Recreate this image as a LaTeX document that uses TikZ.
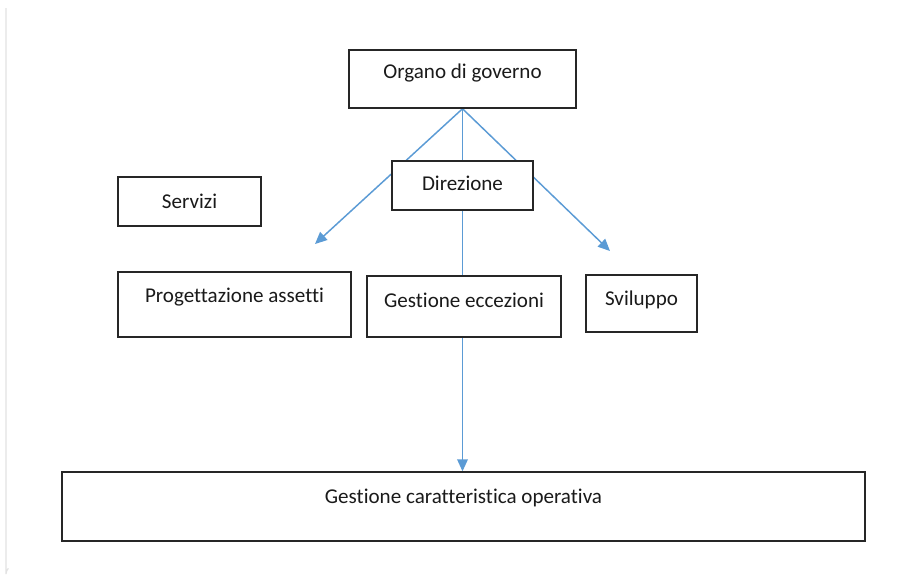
\documentclass[tikz,border=0pt]{standalone}
\usepackage{fontspec}
\setmainfont{Carlito}[Ligatures={NoCommon}]
\usetikzlibrary{arrows.meta}
\definecolor{boxline}{HTML}{262626}
\definecolor{linkblue}{HTML}{5B9BD5}
\definecolor{textdark}{HTML}{1A1A1A}
\definecolor{framegray}{HTML}{E2E2E2}
\pgfdeclarelayer{bg}
\pgfsetlayers{bg,main}
\begin{document}
\begin{tikzpicture}[x=0.75pt,y=-0.75pt,
  box/.style 2 args={draw=boxline, line width=1.1pt, fill=white, inner sep=0pt,
    minimum width=#1*0.75pt, minimum height=#2*0.75pt},
  boxtext/.style={font=\fontsize{15.8}{19}\selectfont, text=textdark, inner sep=0pt},
  link/.style={draw=linkblue, line width=1.1pt},
  arr/.style={link, -{Triangle[length=9pt,width=8pt]}}]
  % page area
  \useasboundingbox (0,0) rectangle (905,583);

  % boxes
  \node[box={227}{58}, label={[boxtext, name=organo-t, yshift=4.5pt]center:Organo di governo}] (organo) at (462.5,79) {};
  \node[box={141}{49}, label={[boxtext, name=direz-t, yshift=1.9pt]center:Direzione}] (direz) at (462.5,185.5) {};
  \node[box={143}{49}, label={[boxtext, name=servizi-t]center:Servizi}] (servizi) at (189.5,201.5) {};
  \node[box={233}{65}, label={[boxtext, name=progett-t, yshift=5.6pt]center:Progettazione assetti}] (progett) at (234.5,304.5) {};
  \node[box={194}{61}, label={[boxtext, name=eccez-t, yshift=4.9pt]center:Gestione eccezioni}] (eccez) at (464,306.5) {};
  \node[box={111}{57}, label={[boxtext, name=svil-t, yshift=2.6pt]center:Sviluppo}] (svil) at (641.5,303.5) {};
  \node[box={803}{69}, label={[boxtext, name=operativa-t, yshift=6.4pt]center:Gestione caratteristica operativa}] (operativa) at (463.5,506.5) {};

  % free ends of the two diagonal arrows
  \coordinate (tipL) at (315,244);
  \coordinate (tipR) at (610,251);

  % background, frame edge and connectors, all behind the boxes
  \begin{pgfonlayer}{bg}
    \fill[white] (0,0) rectangle (905,583);
    \draw[framegray, line width=0.9pt] (6,8) -- (6,574) arc[start angle=180, end angle=225, radius=8];
    \draw[link] (organo.south) -- (direz.north);
    \draw[arr] (organo.south) -- (tipL);
    \draw[arr] (organo.south) -- (tipR);
    \draw[link] (direz.south) -- (direz.south |- eccez.north);
    \draw[arr] (eccez.south -| direz.south) -- (direz.south |- operativa.north);
  \end{pgfonlayer}
\end{tikzpicture}
\end{document}
